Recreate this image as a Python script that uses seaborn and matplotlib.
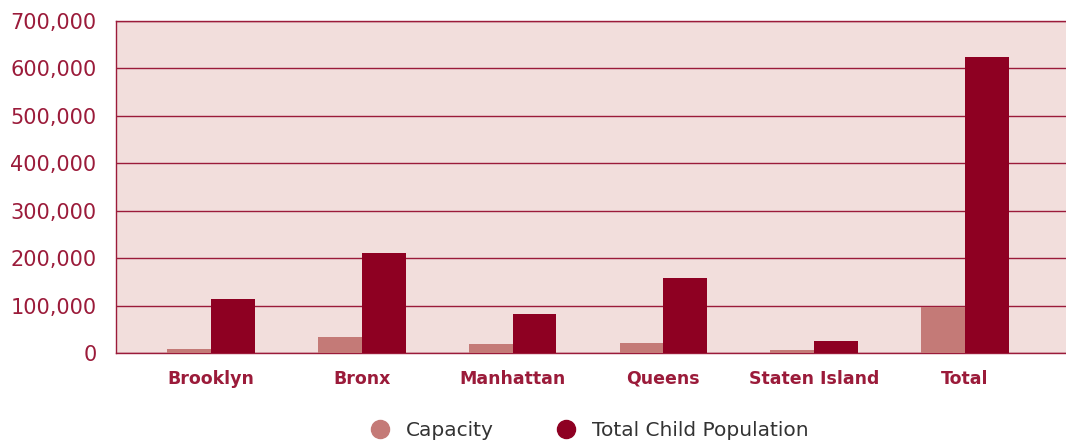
import matplotlib
matplotlib.use("Agg")
import matplotlib.pyplot as plt
from matplotlib.lines import Line2D
from matplotlib.ticker import FuncFormatter
import seaborn as sns
import pandas as pd

# Child care capacity vs. child population by borough
boroughs = ["Brooklyn", "Bronx", "Manhattan", "Queens", "Staten Island", "Total"]
capacity = [8500, 34000, 19000, 21000, 6000, 96000]
child_population = [114000, 211000, 82000, 158000, 25000, 624000]
series_names = ["Capacity", "Total Child Population"]
y_ticks = [0, 100000, 200000, 300000, 400000, 500000, 600000, 700000]

df = pd.DataFrame({
    "Borough": boroughs * 2,
    "Series": [series_names[0]] * len(boroughs) + [series_names[1]] * len(boroughs),
    "Value": capacity + child_population,
})

bg = "#F2DEDC"
light = "#C47A77"
dark = "#8E0022"
axis_red = "#9B1B3A"

sns.set_theme(style="white")
plt.rcParams["font.family"] = ["DejaVu Sans"]

fig = plt.figure(figsize=(10.66, 4.44), dpi=100)
ax = fig.add_axes([0.1088, 0.205, 0.8912, 0.7477])
ax.set_facecolor(bg)

sns.barplot(data=df, x="Borough", y="Value", hue="Series",
            palette=[light, dark], width=0.58, saturation=1,
            linewidth=0, edgecolor="none",
            ax=ax, legend=False, zorder=3)

ax.set_ylim(0, 700000)
ax.set_xlim(-0.63, 5.67)
ax.set_yticks(y_ticks)
ax.yaxis.set_major_formatter(FuncFormatter(lambda v, p: f"{int(v):,}"))
ax.grid(axis="y", color=axis_red, linewidth=1.0, zorder=1)
ax.set_axisbelow(True)
ax.set_xlabel("")
ax.set_ylabel("")

for side in ["left", "bottom", "top"]:
    ax.spines[side].set_color(axis_red)
    ax.spines[side].set_linewidth(1.0)
ax.spines["right"].set_visible(False)

ax.tick_params(axis="y", length=0, pad=14, labelsize=15, labelcolor=axis_red)
ax.tick_params(axis="x", length=0, pad=12, labelsize=12.5, labelcolor=axis_red)
for lbl in ax.get_xticklabels():
    lbl.set_fontweight("bold")

handles = [Line2D([], [], marker="o", linestyle="", markersize=13,
                  markerfacecolor=c, markeredgecolor=c) for c in (light, dark)]
fig.legend(handles, series_names, loc="center", bbox_to_anchor=(0.548, 0.03),
           ncol=2, frameon=False, fontsize=14.5, handletextpad=0.3,
           columnspacing=2.6, labelcolor="#333333")

fig.savefig("out.png", dpi=100)
